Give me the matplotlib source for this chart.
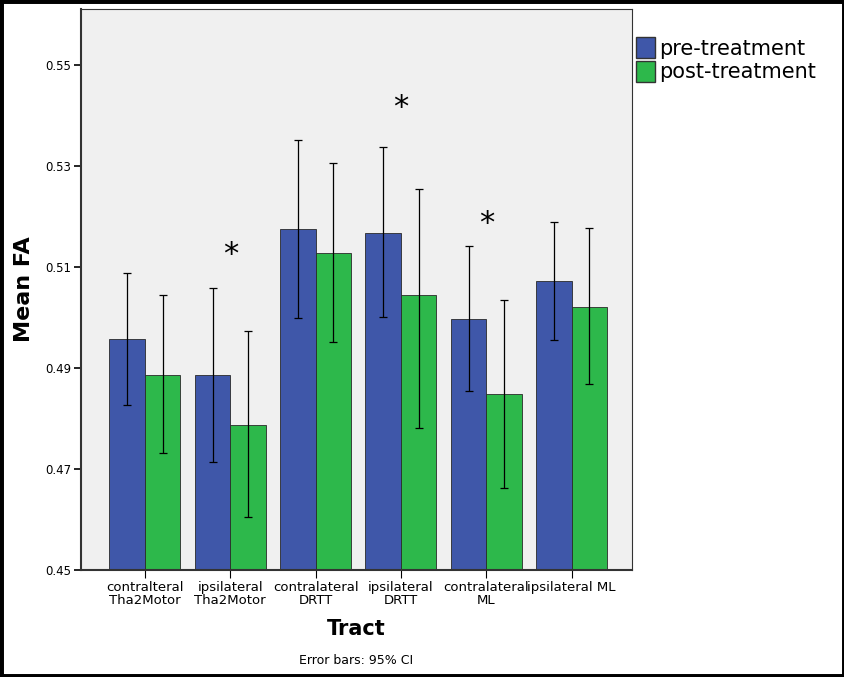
import matplotlib
matplotlib.use("Agg")
import matplotlib.pyplot as plt
import matplotlib.patches as mpatches
import numpy as np

# data
tracts = ["contralteral\nTha2Motor", "ipsilateral\nTha2Motor", "contralateral\nDRTT",
          "ipsilateral\nDRTT", "contralateral\nML", "ipsilateral ML"]
pre_mean = [0.4957, 0.4886, 0.5175, 0.5167, 0.4997, 0.5072]
pre_hi = [0.5088, 0.5058, 0.5350, 0.5336, 0.5142, 0.5189]
pre_lo = [0.4827, 0.4714, 0.4999, 0.5001, 0.4854, 0.4955]
post_mean = [0.4886, 0.4787, 0.5128, 0.5045, 0.4849, 0.5021]
post_hi = [0.5045, 0.4973, 0.5306, 0.5254, 0.5035, 0.5177]
post_lo = [0.4732, 0.4605, 0.4951, 0.4781, 0.4662, 0.4868]
# significance stars: (group index, height)
stars = [(1, 0.5125), (3, 0.5415), (4, 0.5185)]

blue = "#3F57A9"
green = "#2DB84B"

fig = plt.figure(figsize=(8.45, 6.77), dpi=100)
ax = fig.add_axes([81 / 845, 107 / 677, 551 / 845, 561 / 677])
ax.set_facecolor("#F0F0F0")

x = np.arange(len(tracts))
w = 0.416
pre_err = [np.array(pre_mean) - np.array(pre_lo), np.array(pre_hi) - np.array(pre_mean)]
post_err = [np.array(post_mean) - np.array(post_lo), np.array(post_hi) - np.array(post_mean)]
ax.bar(x - w / 2, pre_mean, w, color=blue, edgecolor="#2a2a2a", linewidth=0.6)
ax.bar(x + w / 2, post_mean, w, color=green, edgecolor="#2a2a2a", linewidth=0.6)
ax.errorbar(x - w / 2, pre_mean, yerr=pre_err, fmt="none", ecolor="black",
            elinewidth=0.9, capsize=3.2, capthick=0.9)
ax.errorbar(x + w / 2, post_mean, yerr=post_err, fmt="none", ecolor="black",
            elinewidth=0.9, capsize=3.2, capthick=0.9)

for gi, yy in stars:
    ax.text(gi, yy, "*", ha="center", va="center", fontsize=22)

ax.set_ylim(0.45, 0.561)
ax.set_xlim(-0.749, 5.707)
ax.set_yticks([0.45, 0.47, 0.49, 0.51, 0.53, 0.55])
ax.set_yticklabels(["0.45", "0.47", "0.49", "0.51", "0.53", "0.55"])
ax.set_xticks(x)
ax.set_xticklabels(tracts, fontsize=9.5, linespacing=0.95)
ax.tick_params(axis="y", labelsize=8.5, length=5, width=1.2, direction="out", pad=2)
ax.tick_params(axis="x", length=6, width=0.8, direction="out", pad=2)
for s in ax.spines.values():
    s.set_linewidth(0.8)
    s.set_color("#333333")
ax.spines["left"].set_linewidth(1.5)
ax.spines["bottom"].set_linewidth(1.5)

ax.set_ylabel("Mean FA", fontsize=16, fontweight="bold", labelpad=8)
ax.set_xlabel("Tract", fontsize=15, fontweight="bold", labelpad=9)
fig.text(356 / 845, 1 - 660 / 677, "Error bars: 95% CI", ha="center", va="center", fontsize=9)

handles = [mpatches.Patch(facecolor=blue, edgecolor="#333333", label="pre-treatment"),
           mpatches.Patch(facecolor=green, edgecolor="#333333", label="post-treatment")]
fig.legend(handles=handles, loc="upper left", bbox_to_anchor=(632 / 845, 1 - 33 / 677),
           frameon=False, fontsize=15, handlelength=0.9, handleheight=1.15,
           handletextpad=0.2, labelspacing=0.12, borderaxespad=0, borderpad=0.2)

# black frame round the figure
fig.patches.append(mpatches.Rectangle((0, 0), 1, 1, transform=fig.transFigure,
                                      fill=False, edgecolor="black", linewidth=5))

plt.savefig("out.png", dpi=100)
